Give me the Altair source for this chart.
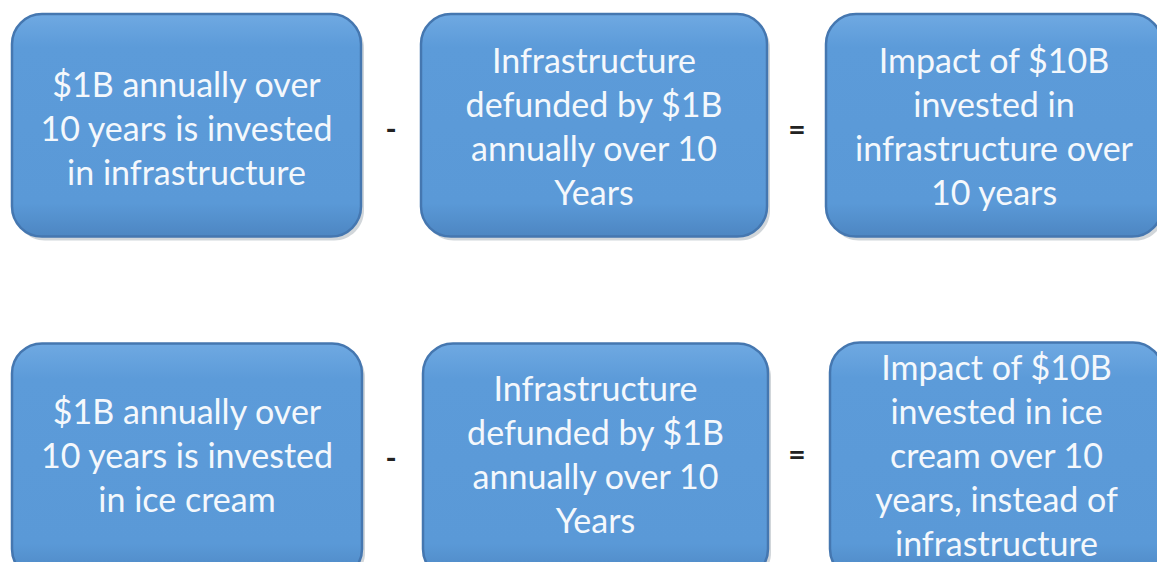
import altair as alt
import pandas as pd

# Boxes (image-pixel layout)
box_x0 = [12, 421, 826, 12, 423, 830]
box_x1 = [361, 767, 1162, 362, 768, 1163]
box_y0 = [14, 14, 14, 344, 344, 343]
box_y1 = [237, 237, 237, 580, 580, 580]
box_text = [
    "$1B annually over\n10 years is invested\nin infrastructure",
    "Infrastructure\ndefunded by $1B\nannually over 10\nYears",
    "Impact of $10B\ninvested in\ninfrastructure over\n10 years",
    "$1B annually over\n10 years is invested\nin ice cream",
    "Infrastructure\ndefunded by $1B\nannually over 10\nYears",
    "Impact of $10B\ninvested in ice\ncream over 10\nyears, instead of\ninfrastructure",
]
first_line_y = [87, 63, 63, 415, 392, 371]

# Operators
op_sym = ["-", "=", "-", "="]
op_x = [391, 797, 391, 797]
op_y = [131, 131, 461, 457]

boxes = pd.DataFrame({
    "x0": box_x0, "x1": box_x1, "y0": box_y0, "y1": box_y1,
    "sx0": [v + 3 for v in box_x0], "sx1": [v + 3 for v in box_x1],
    "sy0": [v + 4 for v in box_y0], "sy1": [v + 4 for v in box_y1],
    "cx": [(a + b) / 2 for a, b in zip(box_x0, box_x1)],
    "ty": first_line_y, "label": box_text,
})
ops = pd.DataFrame({"x": op_x, "y": op_y, "s": op_sym})

xs = alt.Scale(domain=[8, 1157], nice=False, zero=False)
ys = alt.Scale(domain=[8, 563], nice=False, zero=False, reverse=True)

shadow = alt.Chart(boxes).mark_rect(
    cornerRadius=30, color="#9aa3ad", opacity=0.45, clip=True
).encode(
    x=alt.X("sx0:Q", scale=xs, axis=None), x2="sx1:Q",
    y=alt.Y("sy0:Q", scale=ys, axis=None), y2="sy1:Q",
)

rects = alt.Chart(boxes).mark_rect(
    cornerRadius=30, clip=True, stroke="#4577b0", strokeWidth=2.5,
    fill=alt.LinearGradient(
        gradient="linear", x1=0, y1=0, x2=0, y2=1,
        stops=[
            alt.GradientStop(color="#6fa9e2", offset=0),
            alt.GradientStop(color="#5c9bd9", offset=0.15),
            alt.GradientStop(color="#5a99d7", offset=0.85),
            alt.GradientStop(color="#4d86c2", offset=1),
        ],
    ),
).encode(
    x=alt.X("x0:Q", scale=xs, axis=None), x2="x1:Q",
    y=alt.Y("y0:Q", scale=ys, axis=None), y2="y1:Q",
)

labels = alt.Chart(boxes).mark_text(
    font="Lato", fontSize=34, color="#f4f8fc", lineBreak="\n", lineHeight=44,
    align="center", baseline="middle",
).encode(
    x=alt.X("cx:Q", scale=xs, axis=None),
    y=alt.Y("ty:Q", scale=ys, axis=None),
    text="label:N",
)

opmarks = alt.Chart(ops).mark_text(
    font="Lato", fontSize=30, fontWeight="bold", color="#222222",
    align="center", baseline="middle",
).encode(
    x=alt.X("x:Q", scale=xs, axis=None),
    y=alt.Y("y:Q", scale=ys, axis=None),
    text="s:N",
)

chart = (shadow + rects + labels + opmarks).properties(
    width=1149, height=555, padding=0,
    autosize=alt.AutoSizeParams(type="fit", contains="padding"),
).configure_view(stroke=None)

chart.save("out.html", embed_options={"renderer": "svg", "actions": False})
